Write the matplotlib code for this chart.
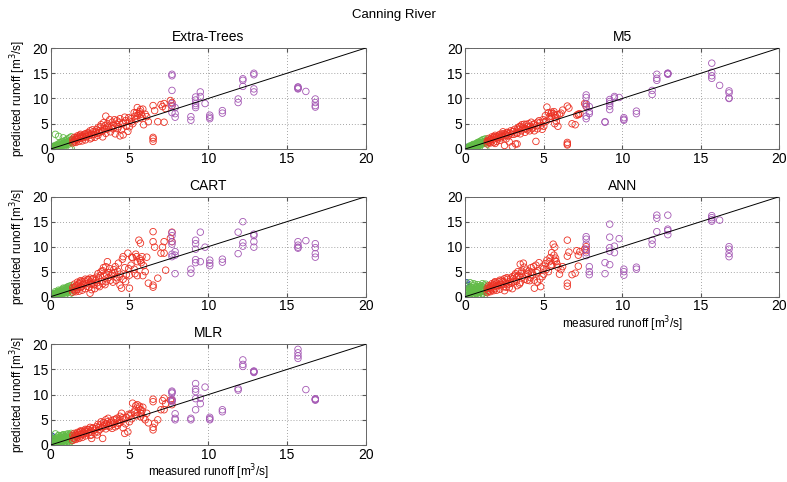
"""
Measured vs predicted runoff for the Canning River, one panel per model.
"""
import matplotlib
matplotlib.use('Agg')
import matplotlib.pyplot as plt

plt.rcParams['font.family'] = ['Liberation Sans', 'DejaVu Sans']

# measured runoff, grouped by flow class (shared by all models)
blue_x = [0.0, 0.02, 0.03, 0.05, 0.05, 0.07, 0.08, 0.1]
green_x = [0.1, 0.15, 0.2, 0.2, 0.25, 0.3, 0.3, 0.35, 0.4, 0.4,
           0.45, 0.5, 0.5, 0.55, 0.6, 0.6, 0.65, 0.7, 0.7, 0.75,
           0.8, 0.8, 0.85, 0.9, 0.9, 0.95, 1.0, 1.0, 1.05, 1.1,
           1.1, 1.15, 1.2, 1.2, 1.25, 1.3, 1.3, 0.3, 0.5, 0.8]
green_x2 = [0.12, 0.18, 0.22, 0.28, 0.33, 0.38, 0.42, 0.48, 0.52, 0.58,
            0.62, 0.68, 0.72, 0.78, 0.82, 0.88, 0.92, 0.98, 1.02, 1.08,
            1.12, 1.18, 1.22, 1.28]
red_x = [1.4, 1.4, 1.5, 1.5, 1.6, 1.6, 1.7, 1.7, 1.8, 1.8,
         1.9, 1.9, 2.0, 2.0, 2.1, 2.2, 2.2, 2.3, 2.4, 2.5,
         2.5, 2.6, 2.7, 2.8, 2.9, 3.0, 3.0, 3.1, 3.2, 3.3,
         3.4, 3.5, 3.5, 3.6, 3.7, 3.8, 3.9, 4.0, 4.1, 4.2,
         4.3, 4.4, 4.5, 4.6, 4.6, 4.7, 4.8, 4.9, 5.0, 5.0,
         5.1, 5.2, 5.3, 5.4, 5.5, 5.5, 5.6, 5.7, 5.8, 5.9,
         6.0, 6.2, 6.5, 6.5, 6.5, 6.5, 6.6, 6.8, 7.0, 7.1,
         7.2, 7.2, 7.3, 7.6, 7.7, 7.7, 3.3, 2.6, 4.4, 5.7]
red_x2 = [1.45, 1.55, 1.65, 1.75, 1.85, 1.95, 2.05, 2.15, 2.25, 2.35,
          2.45, 2.55, 2.65, 2.75, 2.85, 2.95, 3.05, 3.15, 3.25, 3.35,
          3.45, 3.55, 3.65, 3.75, 3.85, 3.95, 4.05, 4.15, 4.25, 4.35,
          4.55, 4.75, 4.95, 5.15, 5.35, 5.45, 5.65, 5.75, 5.85, 6.1]
purple_x = [7.7, 7.7, 7.7, 7.7, 7.7, 7.7, 7.9, 7.9, 7.9, 8.9, 8.9,
            9.2, 9.2, 9.2, 9.2, 9.2, 9.5, 9.5, 9.8, 10.1, 10.1, 10.1,
            10.9, 10.9, 11.9, 11.9, 12.2, 12.2, 12.2, 12.9, 12.9, 12.9, 12.9,
            15.7, 15.7, 15.7, 15.7, 16.2, 16.8, 16.8, 16.8, 16.8]

# predicted runoff per model
et_blue = [0.0, 0.1, 0.3, 0.2, 0.4, 0.1, 0.3, 0.5]
et_green = [0.2, 0.1, 0.4, 0.0, 0.5, 0.2, 0.7, 0.4, 0.8, 0.1,
            0.6, 0.3, 1.0, 0.7, 0.4, 1.2, 0.8, 0.5, 1.3, 0.9,
            0.6, 1.5, 1.1, 0.0, 1.6, 1.2, 0.9, 1.8, 1.3, 0.9,
            2.0, 1.4, 0.0, 2.2, 1.6, 0.1, 2.4, 2.9, 2.5, 2.2]
et_green2 = [0.1, 0.3, 0.2, 0.4, 0.3, 0.5, 0.4, 0.6, 0.5, 0.7,
             0.6, 0.9, 0.7, 1.0, 0.9, 1.1, 1.0, 1.3, 1.1, 1.4,
             1.3, 1.6, 1.4, 1.7]
et_red = [1.2, 1.9, 1.4, 2.3, 1.3, 2.0, 1.8, 2.6, 1.5, 2.4,
          2.1, 2.9, 1.6, 2.6, 2.4, 1.8, 3.0, 2.6, 3.1, 2.0,
          3.6, 2.8, 3.4, 2.3, 3.8, 2.7, 4.2, 3.3, 4.8, 2.4,
          4.0, 6.5, 3.1, 5.0, 4.2, 3.4, 5.3, 4.6, 3.0, 5.6,
          4.4, 6.0, 3.8, 5.2, 2.8, 6.3, 4.5, 3.5, 5.5, 4.4,
          6.0, 5.0, 7.2, 5.8, 8.2, 6.6, 7.0, 7.8, 6.5, 4.8,
          6.9, 5.4, 1.5, 2.0, 2.3, 8.6, 7.6, 5.4, 8.8, 8.4,
          9.0, 5.3, 8.0, 9.6, 8.6, 9.2, 3.6, 2.2, 2.6, 6.1]
et_red2 = [1.6, 1.8, 2.3, 2.1, 2.7, 2.4, 2.2, 2.9, 2.4, 3.2,
           2.7, 3.0, 3.8, 2.9, 3.3, 3.1, 3.6, 4.4, 3.5, 5.2,
           4.6, 3.9, 4.5, 5.8, 4.3, 4.0, 5.8, 4.9, 4.0, 5.3,
           5.0, 5.6, 6.2, 5.4, 6.5, 7.2, 7.4, 6.9, 7.9, 6.4]
et_purple = [14.8, 14.5, 11.6, 9.0, 8.5, 7.2, 8.2, 7.0, 6.3, 6.4, 5.7,
             10.3, 9.7, 9.0, 8.6, 8.2, 11.3, 10.4, 9.0, 6.7, 6.3, 6.0,
             7.6, 7.1, 9.9, 9.2, 13.9, 13.6, 12.4, 15.0, 14.7, 11.9, 11.3,
             12.3, 12.0, 11.9, 12.2, 11.4, 9.9, 9.2, 8.6, 8.3]

m5_blue = [0.0, 0.1, 0.2, 0.1, 0.3, 0.0, 0.2, 0.3]
m5_green = [0.1, 0.1, 0.3, 0.0, 0.3, 0.2, 0.5, 0.3, 0.6, 0.2,
            0.5, 0.3, 0.8, 0.6, 0.4, 0.9, 0.7, 0.5, 1.1, 0.8,
            0.6, 1.3, 1.0, 0.7, 1.4, 1.1, 0.9, 1.6, 1.2, 1.0,
            1.8, 1.3, 0.0, 1.9, 1.5, 0.1, 2.0, 0.6, 0.9, 1.2]
m5_green2 = [0.1, 0.2, 0.2, 0.3, 0.3, 0.4, 0.4, 0.5, 0.5, 0.6,
             0.6, 0.8, 0.7, 0.9, 0.8, 1.0, 0.9, 1.2, 1.0, 1.3,
             1.2, 1.4, 1.3, 1.5]
m5_red = [1.0, 1.6, 1.3, 2.1, 1.2, 1.9, 1.6, 2.4, 1.3, 2.3,
          1.1, 2.7, 1.5, 2.5, 2.3, 1.7, 2.9, 2.5, 3.4, 0.7,
          3.0, 2.7, 3.2, 1.4, 3.6, 0.5, 3.4, 2.9, 1.0, 1.0,
          3.9, 4.5, 3.0, 4.8, 4.0, 3.3, 4.9, 4.5, 3.6, 5.3,
          4.2, 5.0, 1.5, 5.3, 4.0, 5.6, 4.6, 3.9, 5.3, 4.5,
          6.6, 8.3, 7.2, 6.0, 7.3, 6.5, 7.0, 6.7, 5.5, 4.5,
          6.9, 7.7, 0.8, 1.0, 1.3, 8.5, 8.1, 5.0, 4.8, 6.7,
          6.9, 6.8, 7.0, 9.0, 8.4, 8.9, 3.1, 2.0, 3.6, 5.0]
m5_red2 = [1.5, 1.7, 2.0, 1.9, 2.4, 2.2, 2.0, 2.7, 2.2, 3.0,
           2.4, 2.8, 3.3, 2.6, 3.1, 2.9, 3.5, 3.9, 3.2, 4.2,
           4.4, 3.6, 4.3, 4.9, 4.0, 3.8, 5.0, 4.5, 4.0, 4.8,
           4.6, 5.2, 5.8, 5.5, 6.4, 7.0, 7.4, 6.2, 6.8, 7.1]
m5_purple = [10.7, 10.2, 9.0, 8.5, 6.5, 6.0, 8.4, 7.4, 7.0, 5.4, 5.3,
             9.8, 9.4, 9.0, 8.5, 7.8, 10.4, 10.1, 10.2, 6.2, 5.9, 5.7,
             7.5, 7.0, 11.6, 10.8, 14.8, 14.0, 13.6, 15.0, 14.8, 14.9, 15.0,
             17.0, 15.2, 14.5, 14.0, 12.6, 11.5, 11.1, 10.1, 10.0]

cart_blue = [0.0, 0.1, 0.3, 0.2, 0.4, 0.1, 0.2, 0.5]
cart_green = [0.2, 0.1, 0.4, 0.0, 0.5, 0.2, 0.7, 0.4, 0.8, 0.2,
              0.6, 0.3, 1.0, 0.7, 0.4, 1.2, 0.8, 0.5, 1.3, 0.9,
              0.6, 1.5, 1.1, 0.3, 1.6, 1.2, 0.8, 1.8, 1.3, 0.9,
              2.0, 1.4, 0.5, 2.1, 1.6, 0.8, 2.2, 1.0, 1.3, 1.7]
cart_green2 = [0.1, 0.3, 0.2, 0.5, 0.3, 0.6, 0.4, 0.7, 0.5, 0.8,
               0.6, 1.0, 0.7, 1.1, 0.9, 1.2, 1.0, 1.4, 1.1, 1.5,
               1.2, 1.7, 1.3, 1.8]
cart_red = [0.9, 1.8, 1.2, 2.5, 1.0, 2.2, 1.5, 2.9, 1.1, 2.6,
            1.8, 3.2, 1.3, 3.0, 2.5, 1.6, 3.5, 2.1, 3.4, 0.7,
            3.7, 2.5, 3.6, 1.6, 3.9, 2.2, 4.6, 2.0, 5.0, 2.6,
            4.3, 6.0, 3.0, 7.0, 4.8, 3.3, 4.7, 5.4, 6.0, 3.8,
            6.7, 4.5, 1.7, 8.0, 3.5, 5.8, 4.4, 8.7, 1.7, 4.3,
            6.3, 7.8, 5.5, 8.5, 7.0, 4.2, 11.3, 10.7, 8.0, 6.2,
            5.0, 2.7, 1.9, 2.3, 13.0, 11.0, 9.9, 3.7, 8.7, 9.9,
            11.0, 8.7, 5.3, 11.7, 11.0, 12.9, 5.2, 1.4, 2.3, 7.2]
cart_red2 = [1.5, 1.9, 1.4, 2.3, 2.9, 2.0, 2.4, 3.1, 2.6, 3.4,
             1.9, 2.9, 3.5, 2.4, 3.2, 2.8, 3.7, 4.2, 3.1, 5.8,
             2.4, 4.5, 3.8, 5.6, 4.2, 2.9, 4.8, 3.3, 5.1, 4.0,
             7.5, 3.0, 5.6, 7.9, 4.6, 8.0, 7.6, 6.8, 4.2, 7.9]
cart_purple = [12.8, 12.2, 11.0, 10.5, 8.5, 8.0, 9.0, 8.3, 4.6, 5.5, 4.7,
               11.3, 10.6, 9.5, 7.4, 6.8, 12.9, 7.0, 9.9, 7.3, 6.7, 6.2,
               7.5, 6.9, 12.9, 8.6, 15.0, 10.8, 10.1, 12.5, 12.2, 11.0, 9.9,
               11.0, 10.3, 9.9, 9.7, 11.2, 10.6, 9.8, 8.6, 7.9]

ann_blue = [0.3, 0.8, 1.5, 2.0, 2.5, 2.8, 1.2, 2.2]
ann_green = [0.5, 0.8, 1.0, 0.2, 1.5, 0.4, 2.0, 0.9, 1.8, 0.3,
             1.2, 0.5, 2.2, 1.0, 0.3, 2.5, 1.4, 0.6, 2.0, 1.1,
             0.2, 2.4, 1.5, 0.8, 1.9, 1.2, 0.1, 2.2, 1.4, 0.6,
             2.6, 1.3, 0.0, 2.3, 1.7, 0.9, 2.5, 2.8, 2.6, 1.6]
ann_green2 = [0.7, 1.2, 0.4, 1.6, 0.6, 1.3, 0.8, 1.7, 0.6, 1.4,
              0.9, 1.8, 0.7, 1.5, 1.0, 2.0, 0.9, 1.6, 1.1, 1.9,
              1.0, 1.7, 1.2, 2.1]
ann_red = [0.8, 1.7, 1.1, 2.2, 1.0, 2.0, 1.4, 2.6, 1.2, 2.4,
           1.6, 3.0, 1.3, 2.7, 2.2, 1.5, 3.3, 2.4, 3.0, 1.2,
           3.6, 2.6, 3.5, 1.8, 3.7, 1.6, 4.0, 3.0, 4.6, 2.2,
           4.2, 6.5, 2.8, 5.1, 6.7, 3.5, 5.3, 4.6, 3.2, 5.8,
           4.3, 1.7, 6.3, 5.2, 2.9, 6.8, 2.0, 4.0, 5.6, 4.5,
           6.6, 7.3, 5.0, 7.8, 6.4, 8.8, 10.5, 9.9, 7.0, 5.9,
           4.5, 6.0, 2.1, 2.7, 11.3, 8.1, 8.9, 4.4, 4.7, 9.2,
           8.3, 6.1, 9.0, 9.5, 9.2, 10.0, 4.0, 1.9, 3.3, 7.3]
ann_red2 = [1.3, 1.8, 1.6, 2.2, 2.8, 2.1, 2.3, 3.0, 2.5, 3.3,
            2.0, 2.9, 3.8, 2.5, 3.1, 2.7, 3.6, 4.3, 3.1, 5.0,
            2.5, 4.6, 3.9, 5.9, 4.4, 3.3, 5.1, 3.8, 4.9, 6.0,
            4.8, 3.5, 6.1, 5.4, 7.0, 6.1, 8.3, 7.7, 6.5, 5.4]
ann_purple = [12.0, 11.5, 10.5, 9.5, 8.8, 8.2, 6.0, 5.0, 4.4, 6.8, 4.6,
              14.5, 11.9, 9.8, 9.1, 6.4, 8.8, 10.1, 11.6, 5.5, 5.0, 4.3,
              5.9, 5.5, 11.3, 10.5, 16.3, 15.7, 13.0, 16.3, 13.5, 13.2, 12.4,
              16.2, 15.8, 15.4, 15.1, 15.3, 10.0, 9.5, 8.6, 8.0]

mlr_blue = [0.3, 0.7, 1.0, 1.4, 1.8, 0.5, 1.2, 1.6]
mlr_green = [0.3, 0.5, 0.8, 0.0, 1.0, 0.3, 1.3, 0.6, 1.5, 0.2,
             1.1, 0.4, 1.8, 0.9, 0.3, 1.6, 1.1, 0.5, 1.9, 1.0,
             0.3, 2.0, 1.4, 0.6, 1.7, 1.2, 0.4, 2.1, 1.5, 0.7,
             2.2, 1.3, 0.5, 2.0, 1.6, 0.8, 2.3, 2.2, 1.9, 2.0]
mlr_green2 = [0.5, 0.9, 0.4, 1.2, 0.6, 1.0, 0.7, 1.4, 0.6, 1.2,
              0.8, 1.5, 0.7, 1.3, 0.9, 1.7, 0.8, 1.4, 1.0, 1.8,
              1.0, 1.6, 1.1, 1.9]
mlr_red = [0.9, 1.9, 1.2, 2.3, 1.1, 2.1, 1.5, 2.5, 1.3, 2.4,
           1.8, 2.8, 1.5, 2.7, 2.4, 1.8, 3.1, 2.6, 3.0, 1.9,
           3.5, 1.3, 3.3, 2.4, 3.6, 2.6, 4.1, 3.0, 4.6, 1.3,
           4.0, 5.0, 3.2, 4.6, 3.8, 4.4, 3.3, 5.0, 3.6, 5.3,
           4.3, 5.7, 6.3, 5.0, 3.4, 2.3, 5.5, 2.6, 5.8, 4.6,
           6.2, 8.3, 6.5, 7.8, 6.4, 8.0, 7.3, 7.0, 6.8, 5.4,
           5.0, 4.4, 3.0, 3.5, 8.6, 9.1, 4.3, 5.0, 7.0, 8.8,
           9.3, 7.0, 8.2, 8.9, 8.0, 8.9, 3.7, 2.0, 4.5, 5.6]
mlr_red2 = [1.4, 1.8, 1.7, 2.1, 2.6, 2.2, 2.1, 2.8, 2.3, 3.1,
            2.5, 2.8, 3.4, 2.9, 3.2, 2.0, 3.5, 4.0, 3.4, 4.5,
            3.7, 4.2, 5.3, 3.6, 4.8, 4.1, 4.4, 5.1, 3.9, 4.9,
            5.4, 4.2, 6.1, 5.2, 6.9, 5.8, 7.7, 6.2, 7.5, 6.3]
mlr_purple = [10.7, 10.3, 9.1, 8.8, 8.6, 10.5, 6.2, 5.3, 5.0, 5.3, 5.0,
              12.2, 11.1, 10.6, 9.2, 7.0, 9.3, 8.2, 11.5, 5.5, 5.2, 5.0,
              7.0, 6.6, 11.2, 10.9, 16.9, 16.0, 15.6, 14.7, 14.5, 14.6, 14.4,
              19.0, 18.3, 17.7, 17.2, 11.0, 9.2, 9.0, 9.1, 8.9]

models = ['Extra-Trees', 'M5', 'CART', 'ANN', 'MLR']
predictions = {
    'Extra-Trees': (et_blue, et_green + et_green2, et_red + et_red2, et_purple),
    'M5': (m5_blue, m5_green + m5_green2, m5_red + m5_red2, m5_purple),
    'CART': (cart_blue, cart_green + cart_green2, cart_red + cart_red2, cart_purple),
    'ANN': (ann_blue, ann_green + ann_green2, ann_red + ann_red2, ann_purple),
    'MLR': (mlr_blue, mlr_green + mlr_green2, mlr_red + mlr_red2, mlr_purple),
}
class_x = [blue_x, green_x + green_x2, red_x + red_x2, purple_x]
class_colors = ['#2f4ea3', '#62bb47', '#ec3224', '#a458b4']
ticks = [0, 5, 10, 15, 20]

# axes rectangles [left, bottom, width, height] in figure fractions
positions = {
    'Extra-Trees': [0.0644, 0.6909, 0.4003, 0.2095],
    'M5': [0.5912, 0.6909, 0.3990, 0.2095],
    'CART': [0.0644, 0.3845, 0.4003, 0.2075],
    'ANN': [0.5912, 0.3845, 0.3990, 0.2075],
    'MLR': [0.0644, 0.0768, 0.4003, 0.2089],
}

fig = plt.figure(figsize=(7.87, 4.82), dpi=100)
fig.text(0.5, 0.969, 'Canning River', ha='center', va='center', fontsize=9.5)

for name in models:
    ax = fig.add_axes(positions[name])
    for xs, ys, col in zip(class_x, predictions[name], class_colors):
        ax.scatter(xs, ys, s=22, facecolors='none', edgecolors=col,
                   linewidths=0.6, zorder=2)
    ax.axline((0, 0), slope=1, color='black', linewidth=0.7, zorder=3)
    ax.set_xlim(0, 20)
    ax.set_ylim(0, 20)
    ax.set_xticks(ticks)
    ax.set_yticks(ticks)
    ax.grid(True, linestyle=(0, (1, 2.5)), color='#888888', linewidth=0.6)
    ax.set_axisbelow(True)
    ax.tick_params(direction='in', length=3, labelsize=10, pad=2,
                   color='#555555', top=True, right=True)
    for sp in ax.spines.values():
        sp.set_color('#666666')
        sp.set_linewidth(0.7)
    ax.set_title(name, fontsize=10, pad=5)
    if name in ('Extra-Trees', 'CART', 'MLR'):
        ax.set_ylabel('predicted runoff [m$^3$/s]', fontsize=8.5, labelpad=3)
    if name in ('ANN', 'MLR'):
        ax.set_xlabel('measured runoff [m$^3$/s]', fontsize=8.5, labelpad=0.5)

fig.savefig('out.png', dpi=100)
